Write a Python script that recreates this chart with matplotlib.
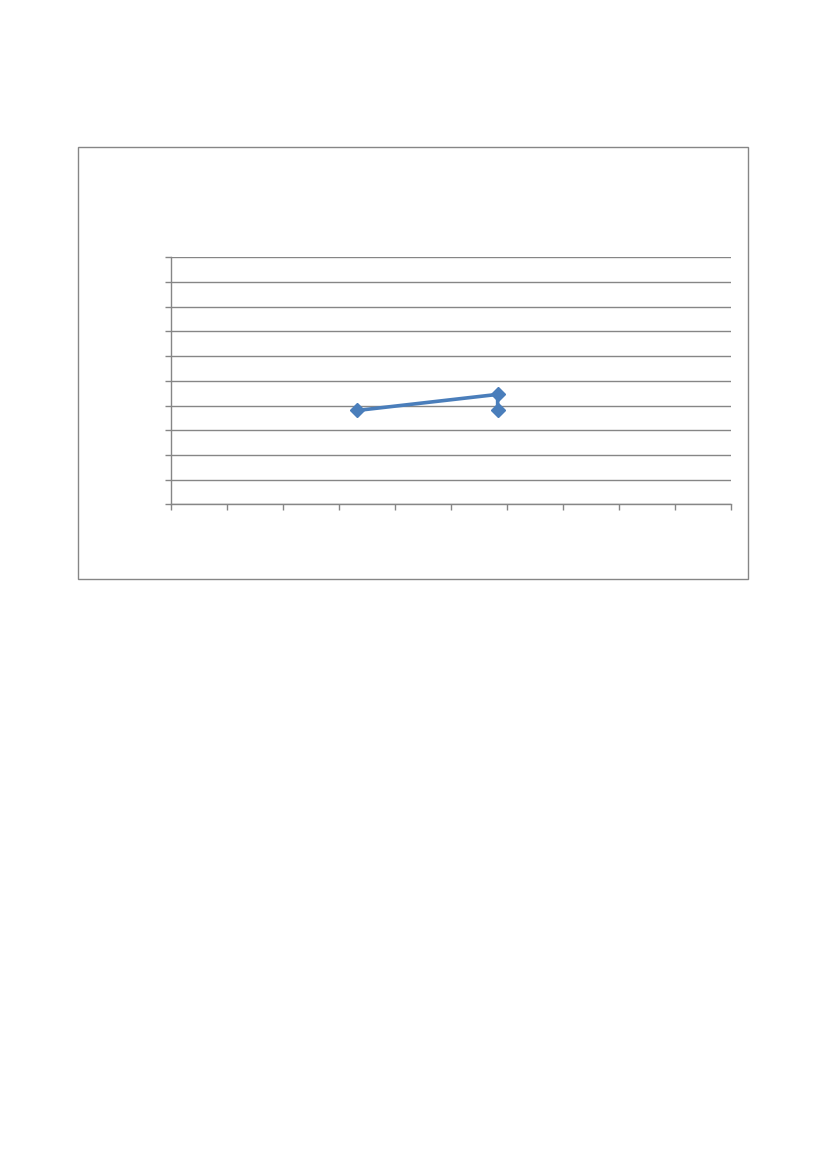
import numpy as np
import matplotlib.pyplot as plt
from matplotlib.patches import Rectangle

# Series values (axis has no labels, read on a 0..10 scale)
x_vals = [3.33, 5.84, 5.84]
y_vals = [3.80, 4.45, 3.83]

W, H = 827, 1169
fig = plt.figure(figsize=(W / 100, H / 100), dpi=100)

# Outer chart frame
fig.patches.append(Rectangle((78.3 / W, 1 - 579 / H), (747.7 - 78.3) / W, (579 - 147) / H,
                             transform=fig.transFigure, fill=False,
                             edgecolor='#868686', linewidth=1.0))

# Plot area
ax = fig.add_axes([170.6 / W, 1 - 504.4 / H, 560 / W, 247.2 / H])
ax.set_xlim(0, 10)
ax.set_ylim(0, 10)
ax.set_xticks(np.arange(0, 11, 1))
ax.set_yticks(np.arange(0, 11, 1))
ax.set_xticklabels([])
ax.set_yticklabels([])
ax.tick_params(axis='both', color='#868686', width=1.0, length=4.5, direction='out')
ax.yaxis.grid(True, color='#868686', linewidth=1.0)
ax.set_axisbelow(True)
for s in ['top', 'right']:
    ax.spines[s].set_visible(False)
for s in ['left', 'bottom']:
    ax.spines[s].set_color('#868686')
    ax.spines[s].set_linewidth(1.0)

ax.plot(x_vals, y_vals, color='#4A7EBB', linewidth=2.6, marker='D',
        markersize=7.2, markerfacecolor='#4A7EBB', markeredgecolor='#4A7EBB',
        clip_on=False, zorder=3)

fig.savefig('out.png', dpi=100)
